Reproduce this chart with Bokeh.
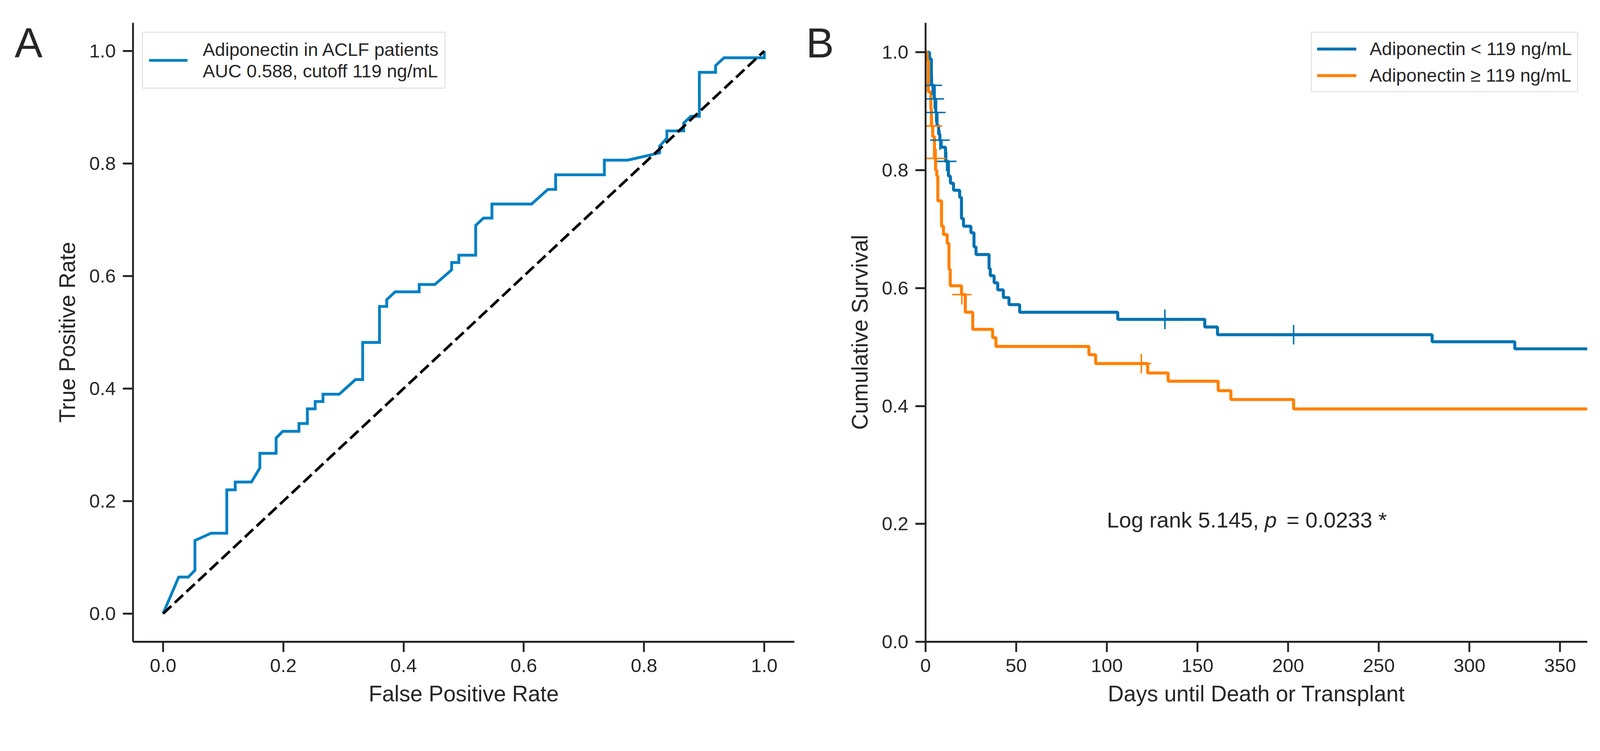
from bokeh.plotting import figure
from bokeh.layouts import row
from bokeh.models import FixedTicker, PrintfTickFormatter, Legend, LegendItem, Range1d
from bokeh.core.properties import value
from bokeh.embed import file_html
from bokeh.resources import INLINE

# ---------------- data ----------------
# Panel A: ROC curve
roc_fpr = [0.0, 0.026, 0.042, 0.053, 0.053, 0.080, 0.106, 0.106, 0.120, 0.120, 0.147, 0.161, 0.161,
           0.188, 0.188, 0.199, 0.226, 0.226, 0.240, 0.240, 0.253, 0.253, 0.266, 0.266, 0.293, 0.320,
           0.332, 0.332, 0.360, 0.360, 0.372, 0.372, 0.386, 0.426, 0.426, 0.452, 0.480, 0.480, 0.492,
           0.492, 0.520, 0.520, 0.533, 0.547, 0.547, 0.613, 0.640, 0.653, 0.653, 0.734, 0.734, 0.773,
           0.826, 0.826, 0.838, 0.838, 0.866, 0.866, 0.878, 0.892, 0.892, 0.919, 0.919, 0.933, 1.0, 1.0]
roc_tpr = [0.0, 0.065, 0.065, 0.077, 0.130, 0.143, 0.143, 0.220, 0.220, 0.234, 0.234, 0.259, 0.285,
           0.285, 0.312, 0.324, 0.324, 0.338, 0.338, 0.364, 0.364, 0.377, 0.377, 0.390, 0.390, 0.416,
           0.416, 0.482, 0.482, 0.546, 0.546, 0.558, 0.572, 0.572, 0.585, 0.585, 0.611, 0.624, 0.624,
           0.637, 0.637, 0.690, 0.703, 0.703, 0.728, 0.728, 0.754, 0.754, 0.780, 0.780, 0.806, 0.806,
           0.819, 0.831, 0.845, 0.858, 0.858, 0.872, 0.884, 0.884, 0.962, 0.962, 0.974, 0.988, 0.988, 1.0]
chance_x = [0.0, 1.0]
chance_y = [0.0, 1.0]
roc_label = "Adiponectin in ACLF patients\nAUC 0.588, cutoff 119 ng/mL"

# Panel B: Kaplan-Meier curves
low_t = [0, 2.2, 3.2, 4.8, 5.6, 6.3, 7.2, 7.9, 8.6, 11.0, 12.6, 13.7, 15.4, 18.8, 19.8, 20.9, 25.0,
         26.7, 27.8, 35.0, 35.7, 37.8, 39.8, 42.9, 46.0, 51.9, 106.0, 154.0, 161.0, 279.4, 325.0, 365.0]
low_s = [1.0, 0.989, 0.944, 0.921, 0.898, 0.876, 0.861, 0.851, 0.839, 0.815, 0.790, 0.778, 0.766,
         0.754, 0.718, 0.705, 0.694, 0.670, 0.657, 0.633, 0.621, 0.609, 0.597, 0.584, 0.572, 0.559,
         0.547, 0.534, 0.521, 0.509, 0.497, 0.497]
low_cens_t = [3.7, 4.8, 5.6, 7.9, 11.6, 132.0, 203.0]
low_cens_s = [0.944, 0.921, 0.898, 0.851, 0.815, 0.547, 0.521]

high_t = [0, 0.85, 1.5, 2.9, 3.2, 3.9, 4.9, 5.5, 6.2, 6.75, 8.8, 9.85, 11.9, 12.9, 13.6, 19.8, 21.9,
          26.0, 37.0, 38.8, 90.1, 93.8, 122.5, 133.8, 161.4, 168.4, 203.0, 365.0]
high_s = [1.0, 0.986, 0.933, 0.904, 0.875, 0.857, 0.820, 0.800, 0.790, 0.748, 0.705, 0.691, 0.676,
          0.632, 0.604, 0.589, 0.559, 0.530, 0.516, 0.501, 0.487, 0.472, 0.456, 0.442, 0.426, 0.411,
          0.395, 0.395]
high_cens_t = [3.7, 5.8, 20.0, 119.0]
high_cens_s = [0.875, 0.820, 0.589, 0.472]

km_labels = ["Adiponectin < 119 ng/mL", "Adiponectin \u2265 119 ng/mL"]
x_ticks_a = [0.0, 0.2, 0.4, 0.6, 0.8, 1.0]
y_ticks = [0.0, 0.2, 0.4, 0.6, 0.8, 1.0]
x_ticks_b = [0, 50, 100, 150, 200, 250, 300, 350]
panel_letters = ["A", "B"]

# ---------------- style ----------------
FONT = "Liberation Sans"
TXT = "#262626"
ROC_C = "#0080C4"
BLUE = "#0072B2"
ORANGE = "#FF8000"
FIG_H = 1818
TOP = 58
FRAME_H = 1584


def style_axes(p):
    for ax in (p.xaxis[0], p.yaxis[0]):
        ax.axis_line_width = 4.8
        ax.axis_line_color = TXT
        ax.major_tick_line_width = 4.8
        ax.major_tick_line_color = TXT
        ax.major_tick_out = 26
        ax.major_tick_in = 0
        ax.minor_tick_line_color = None
        ax.major_label_text_font = FONT
        ax.major_label_text_font_size = "49px"
        ax.major_label_text_color = TXT
        ax.major_label_standoff = 18
        ax.axis_label_text_font = FONT
        ax.axis_label_text_font_size = "56.5px"
        ax.axis_label_text_color = TXT
        ax.axis_label_text_font_style = "normal"
        ax.axis_label_standoff = 21
    p.xgrid.grid_line_color = None
    p.ygrid.grid_line_color = None
    p.outline_line_color = None


def letter_fig(letter, x_px):
    f = figure(width=120, height=FIG_H, x_range=Range1d(0, 120), y_range=Range1d(0, FIG_H),
               x_axis_type=None, y_axis_type=None, min_border=0,
               output_backend="svg", toolbar_location=None)
    f.outline_line_color = None
    f.xgrid.grid_line_color = None
    f.ygrid.grid_line_color = None
    f.text(x=[x_px], y=[FIG_H - 59], text=[letter], text_font=value(FONT), text_font_size="107px",
           text_color=TXT, text_baseline="alphabetic", text_align="left")
    return f


# ---------------- panel A ----------------
la = letter_fig(panel_letters[0], 37)

pa = figure(frame_width=1693, frame_height=FRAME_H, min_border_left=220, min_border_right=8,
            min_border_top=TOP, min_border_bottom=FIG_H - TOP - FRAME_H,
            x_range=Range1d(-0.05, 1.05), y_range=Range1d(-0.05, 1.05),
            output_backend="svg", toolbar_location=None,
            x_axis_label="False Positive Rate", y_axis_label="True Positive Rate")
roc_r = pa.line(roc_fpr, roc_tpr, line_color=ROC_C, line_width=7.2, line_join="miter")
pa.line(chance_x, chance_y, line_color="black", line_width=6.8, line_dash="29 12")
pa.xaxis.ticker = FixedTicker(ticks=x_ticks_a)
pa.yaxis.ticker = FixedTicker(ticks=y_ticks)
pa.xaxis.formatter = PrintfTickFormatter(format="%.1f")
pa.yaxis.formatter = PrintfTickFormatter(format="%.1f")
style_axes(pa)

leg_a = Legend(items=[LegendItem(label=roc_label, renderers=[roc_r])], location="top_left",
               margin=23, padding=15, glyph_width=99, glyph_height=40, label_standoff=39,
               label_text_font=FONT, label_text_font_size="47px", label_text_color=TXT,
               label_text_line_height=1.1,
               border_line_color="#cccccc", border_line_width=3, background_fill_alpha=1.0)
pa.add_layout(leg_a)

# ---------------- panel B ----------------
lb = letter_fig(panel_letters[1], 22)

pb = figure(frame_width=1694, frame_height=FRAME_H, min_border_left=208, min_border_right=20,
            min_border_top=TOP, min_border_bottom=FIG_H - TOP - FRAME_H,
            x_range=Range1d(0, 365), y_range=Range1d(0, 1.05),
            output_backend="svg", toolbar_location=None,
            x_axis_label="Days until Death or Transplant", y_axis_label="Cumulative Survival")
low_r = pb.step(low_t, low_s, mode="after", line_color=BLUE, line_width=7.7)
high_r = pb.step(high_t, high_s, mode="after", line_color=ORANGE, line_width=7.7)
pb.scatter(low_cens_t, low_cens_s, marker="cross", size=50, line_color=BLUE, line_width=3.8)
pb.scatter(high_cens_t, high_cens_s, marker="cross", size=50, line_color=ORANGE, line_width=3.8)
pb.xaxis.ticker = FixedTicker(ticks=x_ticks_b)
pb.yaxis.ticker = FixedTicker(ticks=y_ticks)
pb.yaxis.formatter = PrintfTickFormatter(format="%.1f")
style_axes(pb)

leg_b = Legend(items=[LegendItem(label=km_labels[0], renderers=[low_r]),
                      LegendItem(label=km_labels[1], renderers=[high_r])],
               location="top_right", margin=23, padding=13, spacing=13,
               glyph_width=101, glyph_height=50, label_standoff=34,
               label_text_font=FONT, label_text_font_size="47px", label_text_color=TXT,
               border_line_color="#cccccc", border_line_width=3, background_fill_alpha=1.0)
pb.add_layout(leg_b)

pb.text(x=[100], y=[0.2], text=["Log rank 5.145,"], y_offset=-10, text_font=value(FONT),
        text_font_size="56px", text_color=TXT, text_baseline="alphabetic")
pb.text(x=[100], y=[0.2], text=["p"], x_offset=404, y_offset=-10, text_font=value(FONT),
        text_font_size="56px", text_font_style="italic", text_color=TXT, text_baseline="alphabetic")
pb.text(x=[100], y=[0.2], text=["= 0.0233 *"], x_offset=460, y_offset=-10, text_font=value(FONT),
        text_font_size="56px", text_color=TXT, text_baseline="alphabetic")

layout = row(la, pa, lb, pb)
open("out.html", "w").write(file_html(layout, INLINE))
